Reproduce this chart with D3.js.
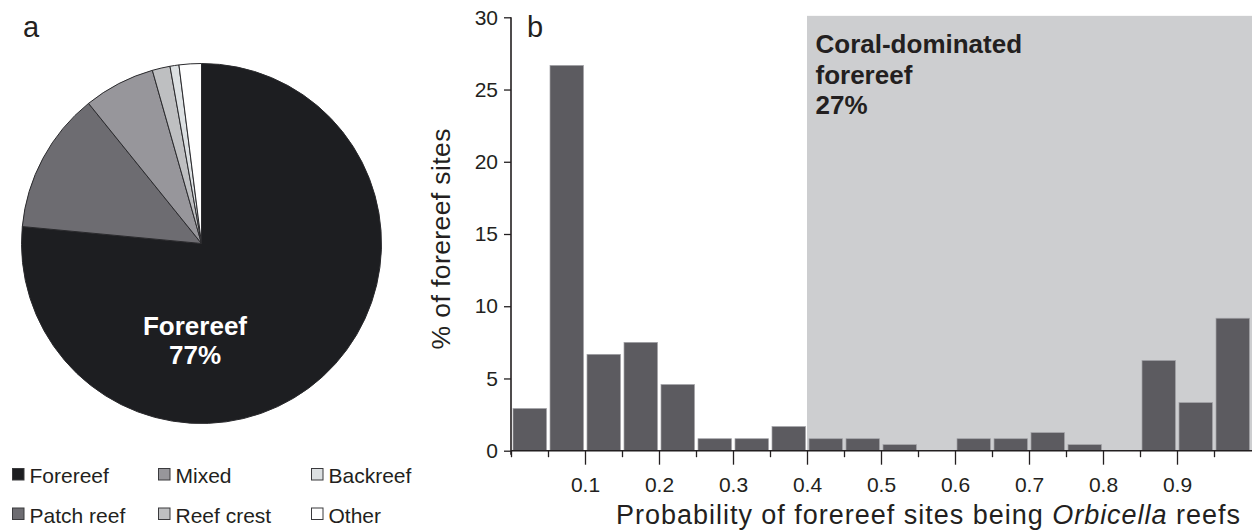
<!DOCTYPE html>
<html>
<head>
<meta charset="utf-8">
<script src="https://cdn.jsdelivr.net/npm/d3@7"></script>
<style>
  html, body { margin: 0; padding: 0; background: #fff; }
  svg { display: block; font-family: "Liberation Sans", Arial, Helvetica, sans-serif; }
</style>
</head>
<body>
<svg id="chart" width="1252" height="530"></svg>
<script>
// ---------- data ----------
const pieCategories = ["Forereef", "Patch reef", "Mixed", "Reef crest", "Backreef", "Other"];
const pieValues = [76.5, 12.7, 6.4, 1.6, 0.8, 2.0];
const pieColors = ["#1d1e21", "#6d6c71", "#97969b", "#bebfc1", "#dce0e2", "#ffffff"];

const legendOrder = ["Forereef", "Mixed", "Backreef", "Patch reef", "Reef crest", "Other"];

const binStarts = [0, 0.05, 0.1, 0.15, 0.2, 0.25, 0.3, 0.35, 0.4, 0.45, 0.5, 0.55, 0.6, 0.65, 0.7, 0.75, 0.8, 0.85, 0.9, 0.95];
const binValues = [2.92, 26.67, 6.67, 7.5, 4.58, 0.83, 0.83, 1.67, 0.83, 0.83, 0.42, 0, 0.83, 0.83, 1.25, 0.42, 0, 6.25, 3.33, 9.17];
const binWidth = 0.05;
const xMajorTicks = [0.1, 0.2, 0.3, 0.4, 0.5, 0.6, 0.7, 0.8, 0.9];
const xMinorTicks = [0, 0.05, 0.15, 0.25, 0.35, 0.45, 0.55, 0.65, 0.75, 0.85, 0.95];
const yTicks = [0, 5, 10, 15, 20, 25, 30];
const shadeStart = 0.4;
const annotationLines = ["Coral-dominated", "forereef", "27%"];
const pieLabelLines = ["Forereef", "77%"];

// ---------- setup ----------
const svg = d3.select("#chart");
const ink = "#231f20";

// ---------- panel a: pie ----------
const cx = 201.5, cy = 243.5, R = 180;
const pie = d3.pie().sort(null).startAngle(0).endAngle(2 * Math.PI);
const arc = d3.arc().innerRadius(0).outerRadius(R);
const color = d3.scaleOrdinal().domain(pieCategories).range(pieColors);

const gPie = svg.append("g").attr("transform", `translate(${cx},${cy})`);
gPie.selectAll("path")
  .data(pie(pieValues))
  .join("path")
  .attr("d", arc)
  .attr("fill", (d, i) => color(pieCategories[i]))
  .attr("stroke", "#2a2a2d")
  .attr("stroke-width", 1)
  .attr("stroke-linejoin", "round");

gPie.append("text")
  .attr("text-anchor", "middle")
  .attr("fill", "#ffffff")
  .attr("font-weight", "bold")
  .attr("font-size", 26)
  .selectAll("tspan")
  .data(pieLabelLines)
  .join("tspan")
  .attr("x", -6.5)
  .attr("y", (d, i) => 91 + i * 29.7)
  .text(d => d);

svg.append("text")
  .attr("x", 23).attr("y", 37)
  .attr("font-size", 29).attr("fill", ink)
  .text("a");

// legend
const legCols = [12, 158, 311];
const legRows = [468, 507.5];
const legSize = 12.5;
const legend = svg.append("g");
legendOrder.forEach((name, i) => {
  const col = i % 3, row = Math.floor(i / 3);
  const g = legend.append("g").attr("transform", `translate(${legCols[col]},${legRows[row]})`);
  g.append("rect")
    .attr("x", 0.5).attr("y", 0.5)
    .attr("width", legSize - 1).attr("height", legSize - 1)
    .attr("fill", color(name))
    .attr("stroke", "#3a3a3d")
    .attr("stroke-width", 1);
  g.append("text")
    .attr("x", legSize + 5)
    .attr("y", 15)
    .attr("font-size", 21)
    .attr("fill", ink)
    .text(name);
});

// ---------- panel b: histogram ----------
const x = d3.scaleLinear().domain([0, 1]).range([511, 1251]);
const y = d3.scaleLinear().domain([0, 30]).range([450.7, 17.3]);

// shaded region
svg.append("rect")
  .attr("x", x(shadeStart))
  .attr("y", y(30.1))
  .attr("width", 1252 - x(shadeStart))
  .attr("height", y(0) - y(30.1))
  .attr("fill", "#cdced0");

// bars
svg.append("g").selectAll("rect")
  .data(binStarts.map((s, i) => ({ s, v: binValues[i] })).filter(d => d.v > 0))
  .join("rect")
  .attr("x", d => x(d.s) + 2)
  .attr("width", d => x(d.s + binWidth) - x(d.s) - 3.5)
  .attr("y", d => y(d.v))
  .attr("height", d => y(0) - y(d.v))
  .attr("fill", "#5c5b60")
  .attr("stroke", "#a3a3a7")
  .attr("stroke-width", 0.7);

// y axis
const yAxis = d3.axisLeft(y).tickValues(yTicks).tickSize(7).tickPadding(6).tickFormat(d3.format("d"));
const gy = svg.append("g").attr("transform", `translate(${x(0)},0)`).call(yAxis);
gy.select(".domain").remove();
gy.append("line").attr("x1", 0).attr("x2", 0).attr("y1", y(0) + 4).attr("y2", y(30))
  .attr("stroke", ink).attr("stroke-width", 1.6);
gy.selectAll(".tick line").attr("stroke", ink).attr("stroke-width", 1.3);
gy.selectAll(".tick text")
  .attr("font-size", 21).attr("fill", ink)
  .attr("font-family", "Liberation Sans, Arial, sans-serif");

// x axis: major ticks with labels
const xAxisMajor = d3.axisBottom(x).tickValues(xMajorTicks).tickSize(14).tickPadding(12).tickFormat(d3.format(".1f"));
const gx = svg.append("g").attr("transform", `translate(0,${y(0)})`).call(xAxisMajor);
gx.select(".domain").remove();
gx.append("line").attr("x1", x(0)).attr("x2", 1252).attr("y1", 0).attr("y2", 0)
  .attr("stroke", ink).attr("stroke-width", 1.6);
gx.selectAll(".tick line").attr("stroke", ink).attr("stroke-width", 1.3);
gx.selectAll(".tick text")
  .attr("font-size", 21).attr("fill", ink)
  .attr("font-family", "Liberation Sans, Arial, sans-serif");

// x axis: minor ticks
const xAxisMinor = d3.axisBottom(x).tickValues(xMinorTicks).tickSize(6.5).tickFormat("");
const gxm = svg.append("g").attr("transform", `translate(0,${y(0)})`).call(xAxisMinor);
gxm.select(".domain").remove();
gxm.selectAll(".tick line").attr("stroke", ink).attr("stroke-width", 1.3);

// axis titles
const xTitle = svg.append("text")
  .attr("x", 928).attr("y", 524)
  .attr("text-anchor", "middle")
  .attr("font-size", 27).attr("fill", ink)
  .attr("textLength", 624)
  .attr("lengthAdjust", "spacing");
xTitle.append("tspan").text("Probability of forereef sites being ");
xTitle.append("tspan").attr("font-style", "italic").text("Orbicella");
xTitle.append("tspan").text(" reefs");

svg.append("text")
  .attr("transform", "translate(450,239) rotate(-90)")
  .attr("text-anchor", "middle")
  .attr("font-size", 26.5).attr("fill", ink)
  .attr("textLength", 221)
  .attr("lengthAdjust", "spacing")
  .text("% of forereef sites");

// panel letter b
svg.append("text")
  .attr("x", 527).attr("y", 37)
  .attr("font-size", 29).attr("fill", ink)
  .text("b");

// annotation
svg.append("text")
  .attr("font-weight", "bold")
  .attr("font-size", 26)
  .attr("fill", ink)
  .selectAll("tspan")
  .data(annotationLines)
  .join("tspan")
  .attr("x", 815.5)
  .attr("y", (d, i) => 53.3 + i * 30.5)
  .text(d => d);
</script>
</body>
</html>
